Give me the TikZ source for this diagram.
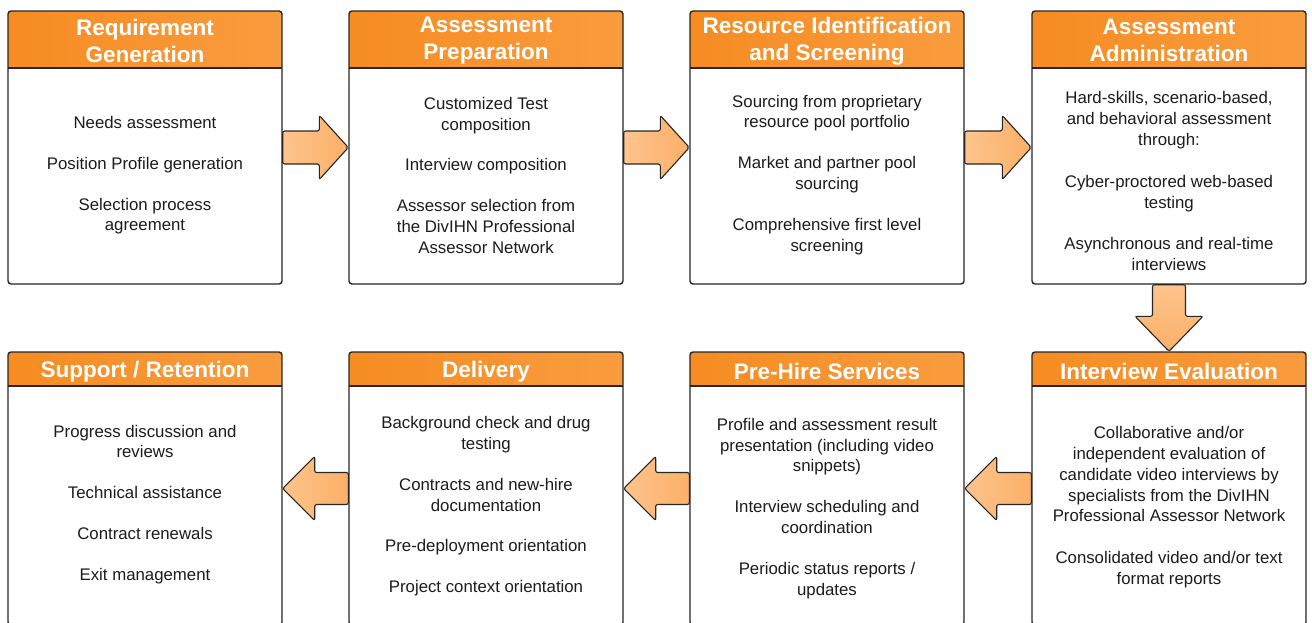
\documentclass[tikz,border=0pt]{standalone}
\usepackage{fontspec}
\setmainfont{Liberation Sans}
\usetikzlibrary{calc}
\definecolor{hdrL}{RGB}{246,140,34}
\definecolor{hdrR}{RGB}{249,156,62}
\definecolor{arL}{RGB}{253,196,140}
\definecolor{arR}{RGB}{251,176,104}
\definecolor{txt}{RGB}{28,28,28}
\definecolor{edge}{RGB}{38,38,38}
\begin{document}
\begin{tikzpicture}[x=1pt,y=-1pt,
  panel/.style={draw=edge, line width=1.4pt, fill=white, rounded corners=3pt,
    minimum width=274pt, minimum height=273pt, inner sep=0pt,
    path picture={
      \shade[sharp corners,left color=hdrL,right color=hdrR]
        (path picture bounding box.north west) rectangle ([yshift=-#1]path picture bounding box.north east);
      \draw[sharp corners,edge,line width=1.4pt]
        ([yshift=-#1]path picture bounding box.north west) -- ([yshift=-#1]path picture bounding box.north east);}},
  title/.style={text=white, font=\bfseries\fontsize{22.5}{27}\selectfont, align=center, inner sep=0pt},
  body/.style={text=txt, font=\fontsize{16.8}{20.8}\selectfont, align=center, inner sep=0pt},
  blockarrow/.style={draw=edge, line width=1.1pt, rounded corners=2pt, left color=arL, right color=arR},
  downarrow/.style={draw=edge, line width=1.1pt, rounded corners=2pt, top color=arL, bottom color=arR}]
\useasboundingbox (0,0) rectangle (1312,622);

% top row
\node[panel=57pt] (b1) at (145,147.5) {};
\node[panel=57pt] (b2) at (486,147.5) {};
\node[panel=57pt] (b3) at (827,147.5) {};
\node[panel=57pt] (b4) at (1169,147.5) {};
% bottom row
\node[panel=34pt] (b5) at (1169,488.5) {};
\node[panel=34pt] (b6) at (827,488.5) {};
\node[panel=34pt] (b7) at (486,488.5) {};
\node[panel=34pt] (b8) at (145,488.5) {};

% titles
\node[title] (t1) at ($(b1.north)+(0,30.5)$) {Requirement\\Generation};
\node[title] (t2) at ($(b2.north)+(0,30.5)$) {Assessment\\Preparation};
\node[title] (t3) at ($(b3.north)+(0,30.5)$) {Resource Identification\\and Screening};
\node[title] (t4) at ($(b4.north)+(0,30.5)$) {Assessment\\Administration};
\node[title] (t5) at ($(b5.north)+(0,20.5)$) {Interview Evaluation};
\node[title] (t6) at ($(b6.north)+(0,20.5)$) {Pre-Hire Services};
\node[title] (t7) at ($(b7.north)+(0,20.5)$) {Delivery};
\node[title] (t8) at ($(b8.north)+(0,20.5)$) {Support / Retention};

% bodies
\node[body] (d1) at ($(b1.north)+(0,165)$) {Needs assessment\\[20pt]Position Profile generation\\[20pt]Selection process\\agreement};
\node[body] (d2) at ($(b2.north)+(0,165)$) {Customized Test\\composition\\[20pt]Interview composition\\[20pt]Assessor selection from\\the DivIHN Professional\\Assessor Network};
\node[body] (d3) at ($(b3.north)+(0,164.5)$) {Sourcing from proprietary\\resource pool portfolio\\[20pt]Market and partner pool\\sourcing\\[20pt]Comprehensive first level\\screening};
\node[body] (d4) at ($(b4.north)+(0,171)$) {Hard-skills, scenario-based,\\and behavioral assessment\\through:\\[21pt]Cyber-proctored web-based\\testing\\[21pt]Asynchronous and real-time\\interviews};
\node[body] (d5) at ($(b5.north)+(0,156)$) {Collaborative and/or\\independent evaluation of\\candidate video interviews by\\specialists from the DivIHN\\Professional Assessor Network\\[21pt]Consolidated video and/or text\\format reports};
\node[body] (d6) at ($(b6.north)+(0,157)$) {Profile and assessment result\\presentation (including video\\snippets)\\[20pt]Interview scheduling and\\coordination\\[20pt]Periodic status reports /\\updates};
\node[body] (d7) at ($(b7.north)+(0,155)$) {Background check and drug\\testing\\[20pt]Contracts and new-hire\\documentation\\[20pt]Pre-deployment orientation\\[20pt]Project context orientation};
\node[body] (d8) at ($(b8.north)+(0,153)$) {Progress discussion and\\reviews\\[20pt]Technical assistance\\[20pt]Contract renewals\\[20pt]Exit management};

% right arrows (top row)
\foreach \a/\b in {b1/b2,b2/b3,b3/b4}{
  \draw[blockarrow] (\b.west) -- ++(-29,-32) -- ++(0,15.5) -- ($(\a.east)+(0,-16.5)$)
    -- ($(\a.east)+(0,16.5)$) -- ($(\b.west)+(-29,16.5)$) -- ++(0,15.5) -- cycle;
}
% down arrow
\draw[downarrow] (b5.north) -- ++(-34,-35) -- ++(17.5,0) -- ($(b4.south)+(-16.5,0)$)
  -- ($(b4.south)+(16.5,0)$) -- ($(b5.north)+(16.5,-35)$) -- ++(17.5,0) -- cycle;
% left arrows (bottom row)
\foreach \a/\b in {b5/b6,b6/b7,b7/b8}{
  \draw[blockarrow] (\b.east) -- ++(32,-32) -- ++(0,16) -- ($(\a.west)+(0,-16)$)
    -- ($(\a.west)+(0,16)$) -- ($(\b.east)+(32,16)$) -- ++(0,16) -- cycle;
}
\end{tikzpicture}
\end{document}
